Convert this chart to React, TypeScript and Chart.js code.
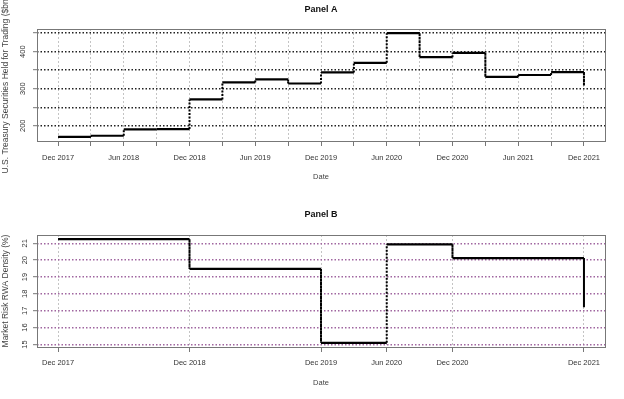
import React, { useEffect, useRef } from "react";
import { Chart, registerables } from "chart.js";

Chart.register(...registerables);

// ---------- data ----------
const quarterLabels = [
  "Dec 2017", "Mar 2018", "Jun 2018", "Sep 2018",
  "Dec 2018", "Mar 2019", "Jun 2019", "Sep 2019",
  "Dec 2019", "Mar 2020", "Jun 2020", "Sep 2020",
  "Dec 2020", "Mar 2021", "Jun 2021", "Sep 2021",
  "Dec 2021",
];

// Panel A: U.S. Treasury securities held for trading ($bn), quarterly
const treasuryValues = [170, 173, 190, 191, 271, 317, 325, 314, 344, 370, 450, 385, 397, 332, 337, 345, 308];
const treasuryTicks = [200, 250, 300, 350, 400, 450];
const treasuryLabeledTicks = [200, 300, 400];

// Panel B: Market risk RWA density (%)
const rwaQuarterIdx = [0, 4, 8, 10, 12, 16];
const rwaValues = [21.24, 19.48, 15.1, 20.94, 20.12, 17.2];
const rwaTicks = [15, 16, 17, 18, 19, 20, 21];

const FONT = "'Liberation Sans', Arial, Helvetica, sans-serif";

// Build step (R type="s") path points from the data arrays
function stepPoints(xs: number[], ys: number[]) {
  const pts: { x: number; y: number }[] = [];
  for (let i = 0; i < xs.length; i++) {
    pts.push({ x: xs[i], y: ys[i] });
    if (i < xs.length - 1) pts.push({ x: xs[i + 1], y: ys[i] });
  }
  return pts;
}

type PanelOpts = {
  title: string;
  yTitle: string;
  xs: number[];
  ys: number[];
  yMin: number;
  yMax: number;
  yTicks: number[];
  yLabelFilter: (v: number) => boolean;
  xTickIdx: number[];
  xLabelFilter: (i: number) => boolean;
  yGridColor: string;
  topPad: number;
  xAxisHeight: number;
  xTickPad: number;
  xTitlePad: number;
  titleY: number;
};

const panelPlugin = (o: PanelOpts) => ({
  id: "panelDecor",
  afterDraw(chart: any) {
    const { ctx, chartArea } = chart;
    const { left, right, top, bottom } = chartArea;
    ctx.save();
    // box
    ctx.strokeStyle = "#777";
    ctx.lineWidth = 1;
    ctx.setLineDash([]);
    ctx.strokeRect(Math.round(left) + 0.5, Math.round(top) + 0.5, Math.round(right - left), Math.round(bottom - top));
    // title
    ctx.fillStyle = "#111";
    ctx.font = `bold 9px ${FONT}`;
    ctx.textAlign = "center";
    ctx.textBaseline = "middle";
    ctx.fillText(o.title, (left + right) / 2, o.titleY);
    // y title
    ctx.translate(6, (top + bottom) / 2);
    ctx.rotate(-Math.PI / 2);
    ctx.fillStyle = "#444";
    ctx.font = `8.5px ${FONT}`;
    ctx.fillText(o.yTitle, 0, 0);
    ctx.restore();
  },
});

function makeConfig(o: PanelOpts): any {
  return {
    type: "line",
    data: {
      datasets: [
        {
          data: stepPoints(o.xs, o.ys),
          borderColor: "#000",
          borderWidth: 2.2,
          pointRadius: 0,
          fill: false,
          tension: 0,
          segment: {
            borderDash: (c: any) => (c.p0.parsed.x === c.p1.parsed.x ? [2, 1.5] : undefined),
            borderWidth: (c: any) => (c.p0.parsed.x === c.p1.parsed.x ? 2 : 2.2),
          },
        },
      ],
    },
    options: {
      animation: false,
      responsive: false,
      devicePixelRatio: 1,
      layout: { padding: { top: o.topPad, right: 19, left: 0, bottom: 0 } },
      plugins: {
        legend: { display: false },
        tooltip: { enabled: false },
        title: { display: false },
      },
      scales: {
        x: {
          type: "linear",
          min: -0.64,
          max: 16.64,
          afterBuildTicks: (s: any) => {
            s.ticks = o.xTickIdx.map((i) => ({ value: i }));
          },
          afterFit: (s: any) => {
            s.height = o.xAxisHeight;
          },
          ticks: {
            autoSkip: false,
            maxRotation: 0,
            minRotation: 0,
            padding: o.xTickPad,
            color: "#333",
            font: { family: FONT, size: 7.5 },
            callback: (v: number) => (o.xLabelFilter(v) ? quarterLabels[v] : ""),
          },
          grid: {
            color: "#c4c4c4",
            lineWidth: 1,
            drawTicks: true,
            tickLength: 5,
            tickColor: "#777",
            tickWidth: 1,
            tickBorderDash: [],
          },
          border: { display: false, dash: [2, 2] },
          title: {
            display: true,
            text: "Date",
            color: "#444",
            font: { family: FONT, size: 7.5 },
            padding: { top: 0, bottom: o.xTitlePad },
          },
        },
        y: {
          type: "linear",
          min: o.yMin,
          max: o.yMax,
          afterBuildTicks: (s: any) => {
            s.ticks = o.yTicks.map((v) => ({ value: v }));
          },
          afterFit: (s: any) => {
            s.width = 37;
          },
          ticks: {
            minRotation: 90,
            maxRotation: 90,
            crossAlign: "center",
            padding: 4,
            color: "#333",
            font: { family: FONT, size: 7.5 },
            callback: (v: number) => (o.yLabelFilter(v) ? String(v) : ""),
          },
          grid: {
            color: o.yGridColor,
            lineWidth: 1.4,
            drawTicks: true,
            tickLength: 4,
            tickColor: "#777",
            tickWidth: 1,
            tickBorderDash: [],
          },
          border: { display: false, dash: [1.5, 2] },
        },
      },
    },
    plugins: [panelPlugin(o)],
  };
}

const quarterIdx = quarterLabels.map((_, i) => i);

const panelA: PanelOpts = {
  title: "Panel A",
  yTitle: "U.S. Treasury Securities Held for Trading ($bn)",
  xs: quarterIdx,
  ys: treasuryValues,
  yMin: 158.8,
  yMax: 461.2,
  yTicks: treasuryTicks,
  yLabelFilter: (v) => treasuryLabeledTicks.includes(v),
  xTickIdx: quarterIdx,
  xLabelFilter: (i) => /^(Dec|Jun)/.test(quarterLabels[i]),
  yGridColor: "#222",
  topPad: 29,
  xAxisHeight: 54,
  xTickPad: 7,
  xTitlePad: 13.5,
  titleY: 10,
};

const panelB: PanelOpts = {
  title: "Panel B",
  yTitle: "Market Risk RWA Density (%)",
  xs: rwaQuarterIdx,
  ys: rwaValues,
  yMin: 14.85,
  yMax: 21.49,
  yTicks: rwaTicks,
  yLabelFilter: () => true,
  xTickIdx: rwaQuarterIdx,
  xLabelFilter: () => true,
  yGridColor: "#a066a0",
  topPad: 40,
  xAxisHeight: 52,
  xTickPad: 6,
  xTitlePad: 11.5,
  titleY: 20,
};

function Panel({ opts, height }: { opts: PanelOpts; height: number }) {
  const ref = useRef<HTMLCanvasElement | null>(null);
  useEffect(() => {
    if (!ref.current) return;
    const chart = new Chart(ref.current, makeConfig(opts));
    return () => chart.destroy();
  }, [opts]);
  return <canvas ref={ref} width={624} height={height} style={{ display: "block", width: 624, height }} />;
}

export default function App() {
  return (
    <div style={{ position: "fixed", left: 0, top: 0, width: 624, height: 399, background: "#fff" }}>
      <Panel opts={panelA} height={195} />
      <Panel opts={panelB} height={204} />
    </div>
  );
}
